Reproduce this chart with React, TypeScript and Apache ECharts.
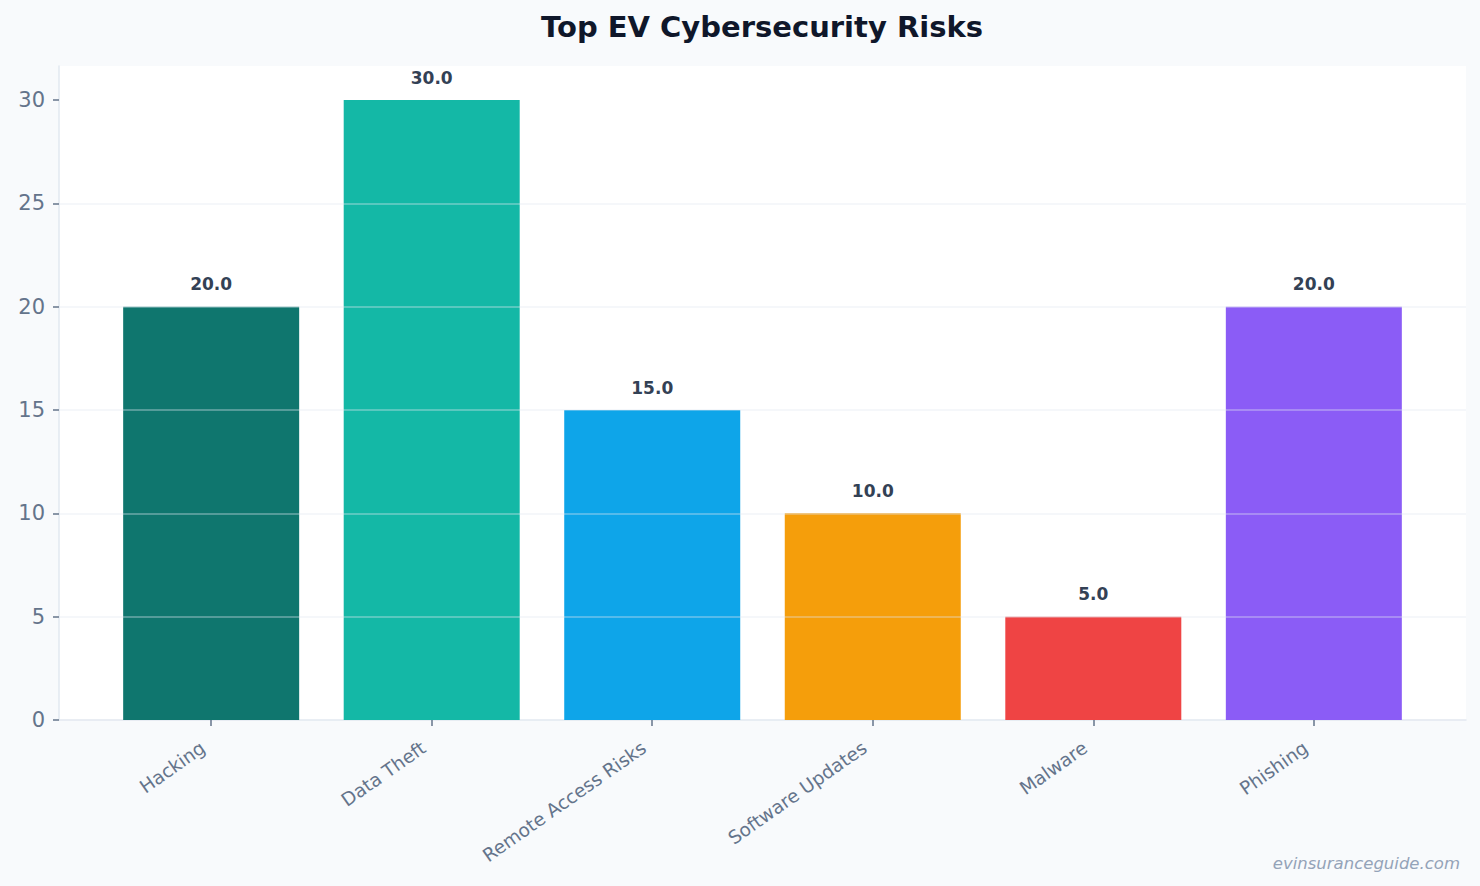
import React, { useEffect, useRef } from "react";
import * as echarts from "echarts";

// Risk categories and their share (%)
const categories = [
  "Hacking",
  "Data Theft",
  "Remote Access Risks",
  "Software Updates",
  "Malware",
  "Phishing",
];
const values = [20, 30, 15, 10, 5, 20];
const barColors = ["#0f766e", "#14b8a6", "#0ea5e9", "#f59e0b", "#ef4444", "#8b5cf6"];
const yTicks = [0, 5, 10, 15, 20, 25, 30];

const FONT = "DejaVu Sans";

export default function App() {
  const ref = useRef<HTMLDivElement>(null);

  useEffect(() => {
    if (!ref.current) return;
    const chart = echarts.init(ref.current, null, { renderer: "svg" });
    const positions = categories.map((_, i) => i);

    chart.setOption({
      animation: false,
      backgroundColor: "#f8fafc",
      graphic: [
        {
          type: "text",
          x: 762,
          y: 27,
          style: {
            text: "Top EV Cybersecurity Risks",
            align: "center",
            verticalAlign: "middle",
            fontFamily: FONT,
            fontSize: 29,
            fontWeight: "bold",
            fill: "#0f172a",
          },
        },
        {
          type: "text",
          right: 20,
          bottom: 14,
          style: {
            text: "evinsuranceguide.com",
            fontFamily: FONT,
            fontSize: 16.5,
            fontStyle: "italic",
            fill: "#94a3b8",
          },
        },
      ],
      grid: {
        left: 59,
        right: 14,
        top: 66,
        bottom: 166,
        show: true,
        backgroundColor: "#ffffff",
        borderWidth: 0,
      },
      xAxis: {
        type: "value",
        min: -0.69,
        max: 5.69,
        splitLine: { show: false },
        axisLine: { show: true, lineStyle: { color: "#e2e8f0", width: 1.5 } },
        axisTick: {
          show: true,
          customValues: positions,
          length: 6,
          lineStyle: { color: "#64748b", width: 1.5 },
        },
        axisLabel: {
          customValues: positions,
          rotate: 35,
          margin: 20,
          padding: [0, 10, 0, 0],
          fontFamily: FONT,
          fontSize: 18.5,
          color: "#64748b",
          formatter: (v: number) => categories[Math.round(v)] ?? "",
        },
      },
      yAxis: {
        type: "value",
        min: 0,
        max: 31.65,
        z: 5,
        axisLine: {
          show: true,
          onZero: false,
          lineStyle: { color: "#e2e8f0", width: 1.5 },
        },
        axisTick: {
          show: true,
          customValues: yTicks,
          length: 6,
          lineStyle: { color: "#64748b", width: 1.5 },
        },
        axisLabel: {
          customValues: yTicks,
          margin: 14,
          fontFamily: FONT,
          fontSize: 21,
          color: "#64748b",
        },
        splitLine: {
          show: true,
          showMaxLine: false,
          showMinLine: false,
          lineStyle: { color: "rgba(226,232,240,0.45)", width: 1.5 },
        },
      },
      series: [
        {
          type: "bar",
          barWidth: 176,
          z: 2,
          data: values.map((v, i) => ({
            value: [i, v],
            itemStyle: { color: barColors[i] },
          })),
          label: {
            show: true,
            position: "top",
            distance: 14,
            fontFamily: FONT,
            fontSize: 17,
            fontWeight: "bold",
            color: "#334155",
            formatter: (p: any) => Number(p.value[1]).toFixed(1),
          },
        },
      ],
    });

    return () => chart.dispose();
  }, []);

  return (
    <div
      ref={ref}
      style={{ position: "fixed", left: 0, top: 0, width: 1480, height: 886 }}
    />
  );
}
